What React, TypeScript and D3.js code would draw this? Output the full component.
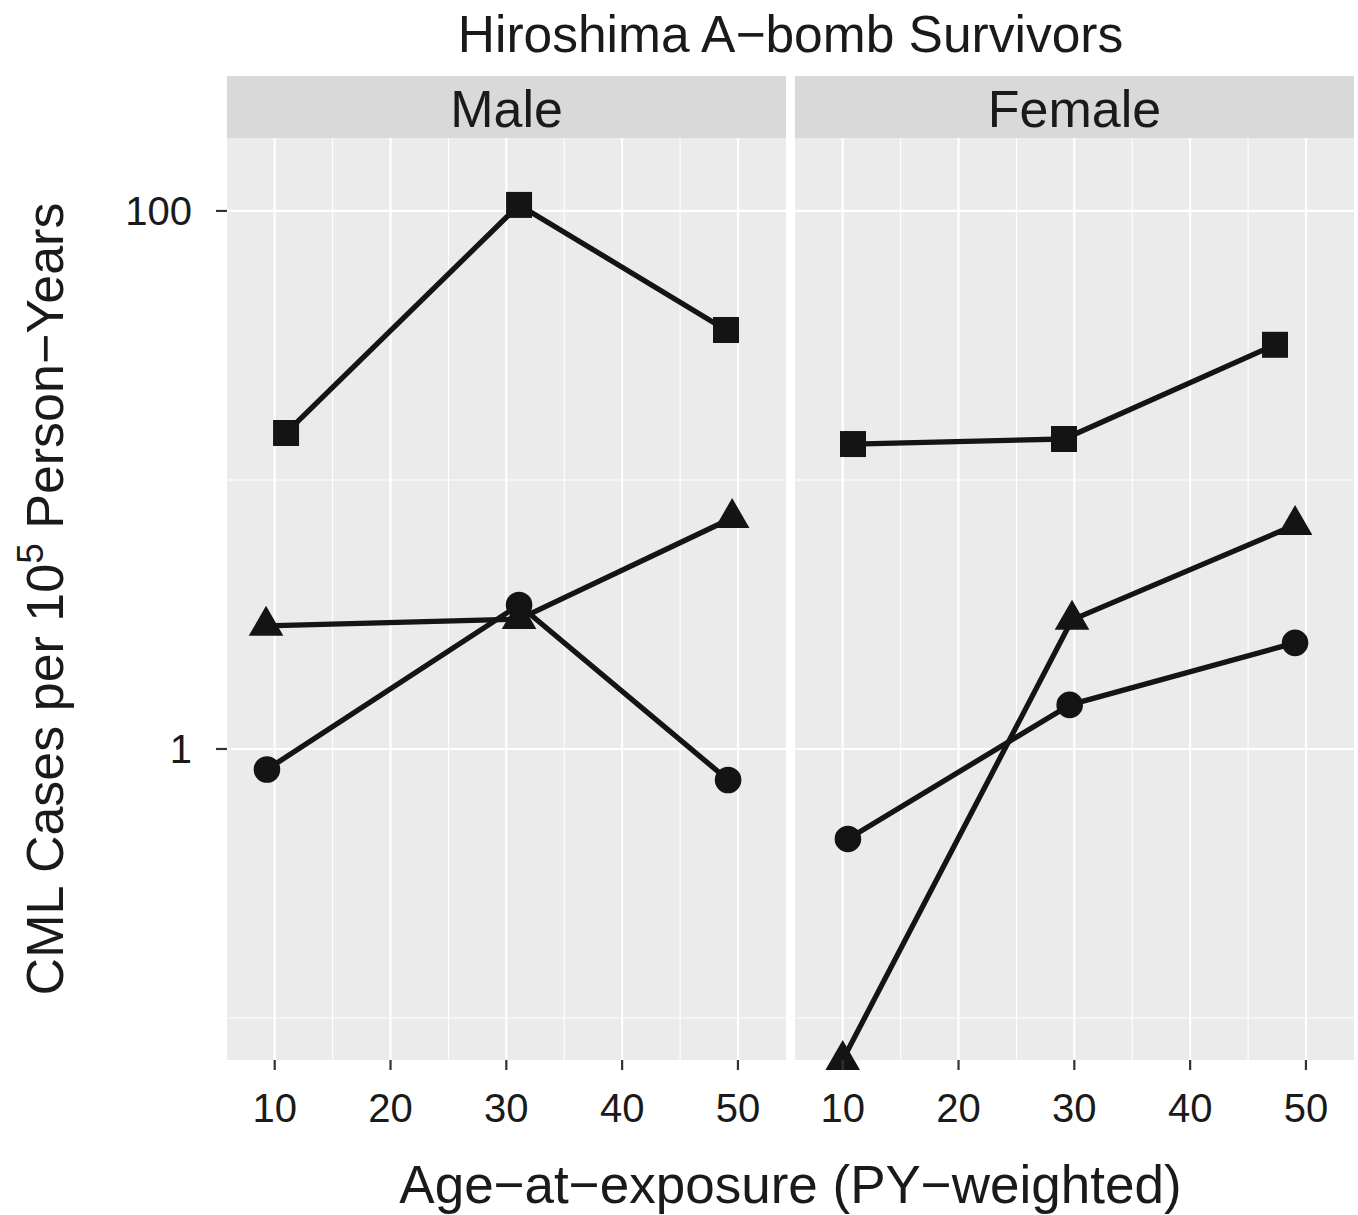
import * as d3 from 'd3'
import * as React from 'react'

// CML rates by age at exposure: [age, rate per 1e5 PY]
const sexes = ['Male', 'Female']
const maleSquare = [[10.98, 14.95], [31.1, 105.3], [48.97, 36.1]]
const maleTriangle = [[9.25, 2.87], [31.1, 3.04], [49.5, 7.22]]
const maleCircle = [[9.33, 0.839], [31.1, 3.43], [49.15, 0.767]]
const femaleSquare = [[10.89, 13.6], [29.11, 14.2], [47.33, 31.8]]
const femaleTriangle = [[10.0, 0.0698], [29.8, 3.02], [49.06, 6.8]]
const femaleCircle = [[10.45, 0.463], [29.6, 1.458], [49.06, 2.48]]

const xTicks = [10, 20, 30, 40, 50]
const xMinor = [15, 25, 35, 45]
const yTicks = [1, 100]
const yTickLabels = ['1', '100']
const yMinor = [0.1, 10]

const title = 'Hiroshima A\u2212bomb Survivors'
const xTitle = 'Age\u2212at\u2212exposure (PY\u2212weighted)'

type Pt = number[]
type Series = { shape: 'square' | 'triangle' | 'circle', pts: Pt[] }

const panelData: Series[][] = [
  [
    { shape: 'square', pts: maleSquare },
    { shape: 'triangle', pts: maleTriangle },
    { shape: 'circle', pts: maleCircle },
  ],
  [
    { shape: 'square', pts: femaleSquare },
    { shape: 'triangle', pts: femaleTriangle },
    { shape: 'circle', pts: femaleCircle },
  ],
]

const font = '"Liberation Sans", Arial, Helvetica, sans-serif'

export default function App() {
  const W = 1358
  const H = 1215
  const panelTop = 138
  const panelBottom = 1060
  const panelW = 559
  const panelLefts = [227, 795]
  const stripTop = 76

  const x = d3.scaleLinear().domain([5.88, 54.15]).range([0, panelW])
  const y = d3.scaleLog().domain([0.0698, 186.7]).range([panelBottom - panelTop, 0])

  const line = d3.line<Pt>().x(d => x(d[0])).y(d => y(d[1]))
  const symbols = {
    square: d3.symbol().type(d3.symbolSquare).size(26 * 26)(),
    triangle: d3.symbol().type(d3.symbolTriangle).size(100 * 3 * Math.sqrt(3))(),
    circle: d3.symbol().type(d3.symbolCircle).size(Math.PI * 13.3 * 13.3)(),
  }
  const ph = panelBottom - panelTop
  const cx = (panelLefts[0] + panelLefts[1] + panelW) / 2

  return (
    <svg width={W} height={H} style={{ position: 'absolute', left: 0, top: 0, background: '#fff' }}
      fontFamily={font}>
      <text x={cx} y={52} textAnchor="middle" fontSize={51.5} fill="#1a1a1a">{title}</text>

      {sexes.map((sex, i) => (
        <g key={sex} transform={`translate(${panelLefts[i]},0)`}>
          {/* strip */}
          <rect x={0} y={stripTop} width={panelW} height={panelTop - stripTop} fill="#d9d9d9" />
          <text x={panelW / 2} y={127} textAnchor="middle" fontSize={52} fill="#1a1a1a">{sex}</text>

          <g transform={`translate(0,${panelTop})`}>
            <rect x={0} y={0} width={panelW} height={ph} fill="#ebebeb" />
            {xMinor.map(t => (
              <line key={'xm' + t} x1={x(t)} x2={x(t)} y1={0} y2={ph} stroke="#fff" strokeWidth={1.1} />
            ))}
            {yMinor.map(t => (
              <line key={'ym' + t} x1={0} x2={panelW} y1={y(t)} y2={y(t)} stroke="#fff" strokeWidth={1.1} />
            ))}
            {xTicks.map(t => (
              <line key={'xg' + t} x1={x(t)} x2={x(t)} y1={0} y2={ph} stroke="#fff" strokeWidth={2.2} />
            ))}
            {yTicks.map(t => (
              <line key={'yg' + t} x1={0} x2={panelW} y1={y(t)} y2={y(t)} stroke="#fff" strokeWidth={2.2} />
            ))}

            {panelData[i].map(s => (
              <path key={'l' + s.shape} d={line(s.pts) || ''} fill="none" stroke="#141414"
                strokeWidth={5.3} strokeLinejoin="round" />
            ))}
            {panelData[i].map(s => s.pts.map((p, j) => (
              <path key={s.shape + j} d={symbols[s.shape] || ''}
                transform={`translate(${x(p[0])},${y(p[1])})`} fill="#141414" />
            )))}

            {/* x axis ticks and labels */}
            {xTicks.map(t => (
              <g key={'xt' + t} transform={`translate(${x(t)},${ph})`}>
                <line y1={0} y2={10} stroke="#333" strokeWidth={2.2} />
                <text y={62} textAnchor="middle" fontSize={40} fill="#1a1a1a">{t}</text>
              </g>
            ))}
          </g>
        </g>
      ))}

      {/* y axis */}
      {yTicks.map((t, k) => (
        <g key={'yt' + t} transform={`translate(${panelLefts[0]},${panelTop + y(t)})`}>
          <line x1={-11} x2={0} stroke="#333" strokeWidth={2.2} />
          <text x={-35} dy="0.36em" textAnchor="end" fontSize={40} fill="#1a1a1a">{yTickLabels[k]}</text>
        </g>
      ))}

      <text transform={`translate(63,${(panelTop + panelBottom) / 2}) rotate(-90)`} textAnchor="middle"
        fontSize={52} fill="#1a1a1a">
        CML Cases per 10<tspan baseline-shift="super" fontSize={37}>5</tspan> Person{'\u2212'}Years
      </text>

      <text x={cx} y={1203} textAnchor="middle" fontSize={53} fill="#1a1a1a">{xTitle}</text>
    </svg>
  )
}
